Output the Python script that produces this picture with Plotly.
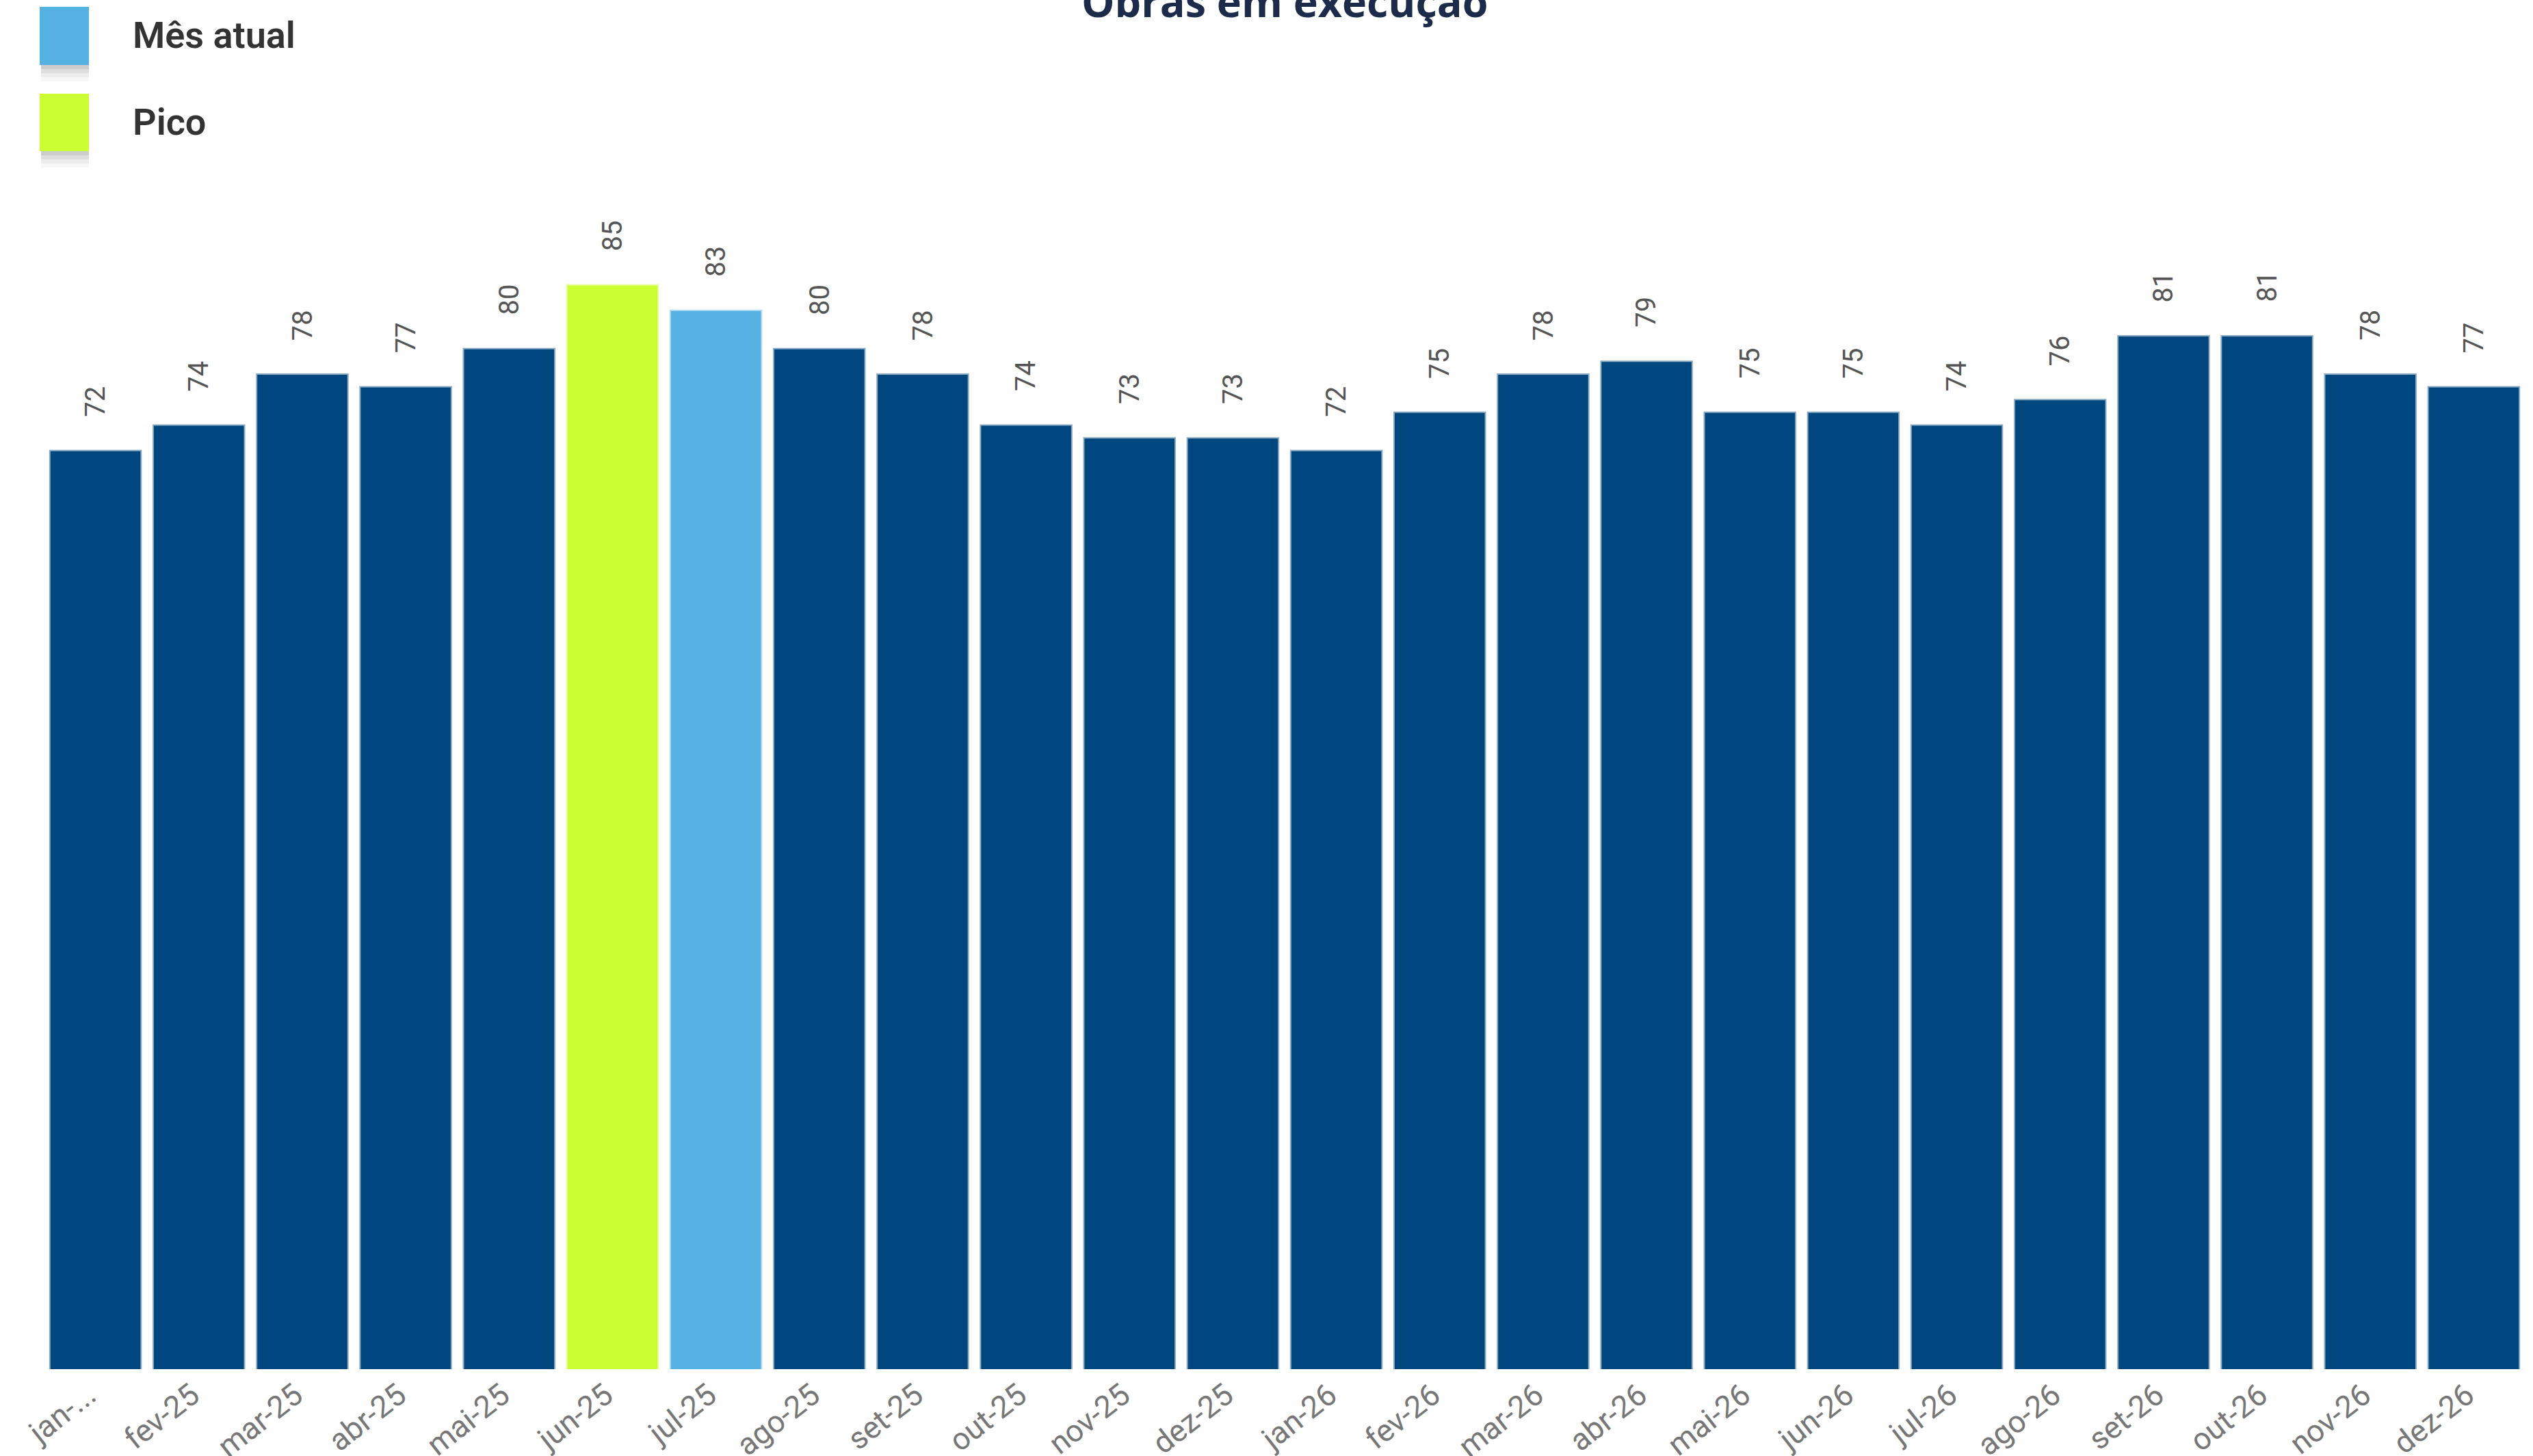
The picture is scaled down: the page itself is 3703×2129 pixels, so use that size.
import plotly.graph_objects as go

# ---- data ----
months = ["jan-...", "fev-25", "mar-25", "abr-25", "mai-25", "jun-25", "jul-25", "ago-25",
          "set-25", "out-25", "nov-25", "dez-25", "jan-26", "fev-26", "mar-26", "abr-26",
          "mai-26", "jun-26", "jul-26", "ago-26", "set-26", "out-26", "nov-26", "dez-26"]
obras = [72, 74, 78, 77, 80, 85, 83, 80, 78, 74, 73, 73, 72, 75, 78, 79, 75, 75, 74, 76, 81, 81, 78, 77]
current_month = "jul-25"
legend_labels = ["Mês atual", "Pico"]

# ---- styling ----
W, H = 3703, 2129
ML, MR, MT, MB = 64, 11, 231, 127
NAVY = "#00477F"
LIGHT = "#56B1E3"
LIME = "#CCFF33"
EDGE = {NAVY: "rgba(0,71,127,0.45)", LIGHT: "rgba(86,177,227,0.45)", LIME: "rgba(204,255,51,0.45)"}

peak = max(obras)
colors = []
for m, v in zip(months, obras):
    if v == peak:
        colors.append(LIME)
    elif m == current_month:
        colors.append(LIGHT)
    else:
        colors.append(NAVY)
edge_colors = [EDGE[c] for c in colors]

fig = go.Figure()
fig.add_trace(go.Bar(
    x=months, y=obras,
    marker=dict(color=colors, line=dict(color=edge_colors, width=4)),
    hoverinfo="x+y", showlegend=False,
))

annotations = []
for m, v in zip(months, obras):
    annotations.append(dict(
        x=m, y=v, xref="x", yref="y", text=str(v), showarrow=False,
        textangle=-90, yanchor="bottom", xanchor="center", yshift=48,
        font=dict(family="Segoe UI, Roboto, sans-serif", size=40, color="#555555"),
    ))

pw = W - ML - MR
ph = H - MT - MB

def px_x(px):
    return (px - ML) / pw

def px_y(py):
    return (H - MB - py) / ph

# title (partly cut by the top edge, as in the reference)
annotations.append(dict(
    x=0.5, y=1, xref="paper", yref="paper", xanchor="center", yanchor="bottom",
    yshift=MT - 45, showarrow=False, text="<b>Obras em execução</b>",
    font=dict(family="Open Sans, sans-serif", size=61, color="#1C2B4A"),
))

# manual legend
shapes = []
legend_colors = [LIGHT, LIME]
legend_rows = [(10, 95), (137, 221)]
for lab, col, (y0, y1) in zip(legend_labels, legend_colors, legend_rows):
    for k, a in enumerate([0.20, 0.13, 0.07, 0.03]):
        shapes.append(dict(type="rect", xref="paper", yref="paper",
                           x0=px_x(60), x1=px_x(130), y0=px_y(y1 + 6 * (k + 1)), y1=px_y(y1 + 6 * k),
                           fillcolor=f"rgba(0,0,0,{a})", line=dict(width=0), layer="above"))
    shapes.append(dict(type="rect", xref="paper", yref="paper",
                       x0=px_x(58), x1=px_x(130), y0=px_y(y1), y1=px_y(y0),
                       fillcolor=col, line=dict(width=0), layer="above"))
    annotations.append(dict(
        x=px_x(192), y=px_y((y0 + y1) / 2 - 1), xref="paper", yref="paper",
        xanchor="left", yanchor="middle", showarrow=False, text=lab,
        font=dict(family="Segoe UI, Roboto, sans-serif", size=54, color="#333333", weight=600),
    ))

fig.update_layout(
    width=W, height=H,
    margin=dict(l=ML, r=MR, t=MT, b=MB, pad=0),
    paper_bgcolor="white", plot_bgcolor="white",
    bargap=0.13,
    showlegend=False,
    annotations=annotations,
    shapes=shapes,
    xaxis=dict(
        type="category", tickangle=-38, showgrid=False, zeroline=False, showline=False,
        ticks="", ticklabelshift=-10, ticklabelstandoff=2,
        tickfont=dict(family="Segoe UI, Roboto, sans-serif", size=45, color="#777777"),
        automargin=False,
    ),
    yaxis=dict(range=[0, 95], visible=False, showgrid=False, zeroline=False, automargin=False),
)

fig.write_html("out.html", config={"displayModeBar": False},
               post_script="document.body.style.margin='0px';")
